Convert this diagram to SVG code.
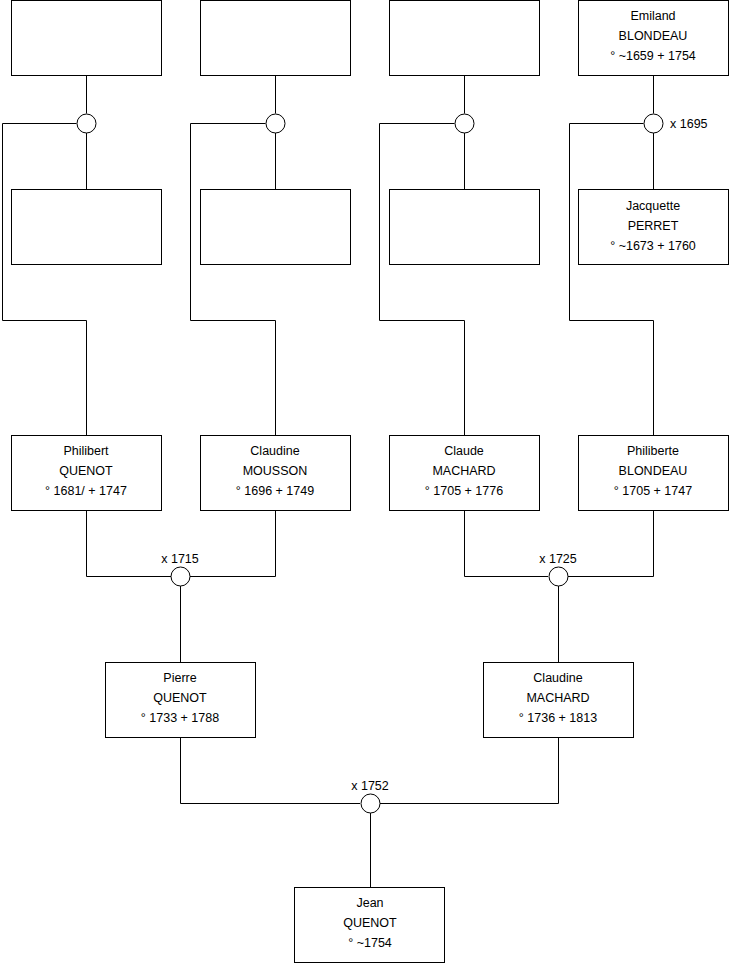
<svg xmlns="http://www.w3.org/2000/svg" width="740" height="975" viewBox="0 0 740 975">
<style>
.box{fill:#fff;stroke:#000;stroke-width:1}
.ln{fill:none;stroke:#000;stroke-width:1}
.ring{fill:#fff;stroke:#000;stroke-width:1}
text{font-family:"Liberation Sans",Arial,sans-serif;font-size:12.5px;fill:#000;text-anchor:middle}
.lbl{text-anchor:middle}
</style>
<rect width="740" height="975" fill="#fff"/>
<g id="connectors">
<path class="ln" d="M86.5 75.5V113.5M86.5 132.5V189.5M76.5 123.5H2.5V320.5H86.5V435.5"/>
<path class="ln" d="M275.5 75.5V113.5M275.5 132.5V189.5M265.5 123.5H190.5V320.5H275.5V435.5"/>
<path class="ln" d="M464.5 75.5V113.5M464.5 132.5V189.5M454.5 123.5H379.5V320.5H464.5V435.5"/>
<path class="ln" d="M653.5 75.5V113.5M653.5 132.5V189.5M643.5 123.5H569.5V320.5H653.5V435.5"/>
<path class="ln" d="M86.5 510.5V576.5H171M275.5 510.5V576.5H190M180.5 586V662.5"/>
<path class="ln" d="M464.5 510.5V576.5H548M653.5 510.5V576.5H567M558.5 586V662.5"/>
<path class="ln" d="M180.5 737.5V803.5H360M558.5 737.5V803.5H380M370.5 813V887.5"/>
<circle class="ring" cx="86.5" cy="123.5" r="9.5"/>
<circle class="ring" cx="275.5" cy="123.5" r="9.5"/>
<circle class="ring" cx="464.5" cy="123.5" r="9.5"/>
<circle class="ring" cx="653.5" cy="123.5" r="9.5"/>
<circle class="ring" cx="180.5" cy="576.5" r="9.5"/>
<circle class="ring" cx="558.5" cy="576.5" r="9.5"/>
<circle class="ring" cx="370.5" cy="803.5" r="9.5"/>
<text x="670" y="128" style="text-anchor:start">x 1695</text>
<text x="180" y="563">x 1715</text>
<text x="558" y="563">x 1725</text>
<text x="370" y="790">x 1752</text>
</g>
<g id="n1"><rect class="box" x="11.5" y="0.5" width="150" height="75"/></g>
<g id="n2"><rect class="box" x="200.5" y="0.5" width="150" height="75"/></g>
<g id="n3"><rect class="box" x="389.5" y="0.5" width="150" height="75"/></g>
<g id="n4"><rect class="box" x="578.5" y="0.5" width="150" height="75"/>
<text x="653" y="20">Emiland</text><text x="653" y="40">BLONDEAU</text><text x="653" y="60">° ~1659 + 1754</text></g>
<g id="n5"><rect class="box" x="11.5" y="189.5" width="150" height="75"/></g>
<g id="n6"><rect class="box" x="200.5" y="189.5" width="150" height="75"/></g>
<g id="n7"><rect class="box" x="389.5" y="189.5" width="150" height="75"/></g>
<g id="n8"><rect class="box" x="578.5" y="189.5" width="150" height="75"/>
<text x="653" y="210">Jacquette</text><text x="653" y="230">PERRET</text><text x="653" y="250">° ~1673 + 1760</text></g>
<g id="n9"><rect class="box" x="11.5" y="435.5" width="150" height="75"/>
<text x="86" y="455">Philibert</text><text x="86" y="475">QUENOT</text><text x="86" y="495">° 1681/ + 1747</text></g>
<g id="n10"><rect class="box" x="200.5" y="435.5" width="150" height="75"/>
<text x="275" y="455">Claudine</text><text x="275" y="475">MOUSSON</text><text x="275" y="495">° 1696 + 1749</text></g>
<g id="n11"><rect class="box" x="389.5" y="435.5" width="150" height="75"/>
<text x="464" y="455">Claude</text><text x="464" y="475">MACHARD</text><text x="464" y="495">° 1705 + 1776</text></g>
<g id="n12"><rect class="box" x="578.5" y="435.5" width="150" height="75"/>
<text x="653" y="455">Philiberte</text><text x="653" y="475">BLONDEAU</text><text x="653" y="495">° 1705 + 1747</text></g>
<g id="n13"><rect class="box" x="105.5" y="662.5" width="150" height="75"/>
<text x="180" y="682">Pierre</text><text x="180" y="702">QUENOT</text><text x="180" y="722">° 1733 + 1788</text></g>
<g id="n14"><rect class="box" x="483.5" y="662.5" width="150" height="75"/>
<text x="558" y="682">Claudine</text><text x="558" y="702">MACHARD</text><text x="558" y="722">° 1736 + 1813</text></g>
<g id="n15"><rect class="box" x="294.5" y="887.5" width="150" height="75"/>
<text x="370" y="907">Jean</text><text x="370" y="927">QUENOT</text><text x="370" y="947">° ~1754</text></g>
</svg>
